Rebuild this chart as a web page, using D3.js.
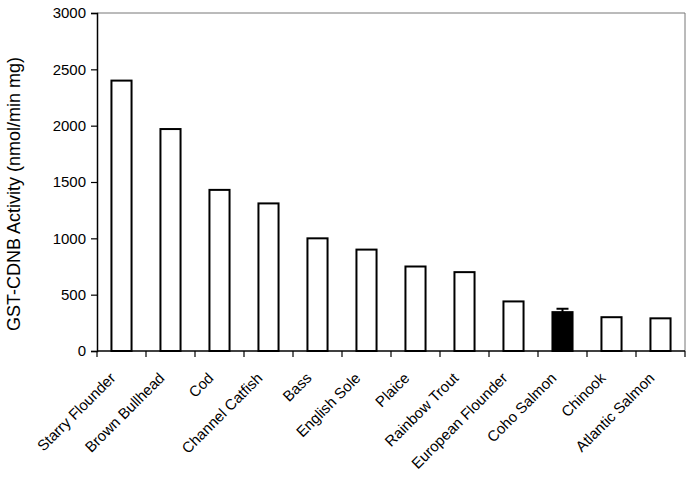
<!DOCTYPE html>
<html><head><meta charset="utf-8">
<script src="https://cdn.jsdelivr.net/npm/d3@7/dist/d3.min.js"></script>
<style>body{margin:0;background:#fff}svg{display:block}</style>
</head><body>
<script>
const categories = ["Starry Flounder","Brown Bullhead","Cod","Channel Catfish","Bass","English Sole","Plaice","Rainbow Trout","European Flounder","Coho Salmon","Chinook","Atlantic Salmon"];
const values = [2400,1970,1430,1310,1000,900,750,700,440,345,300,290];
const errors = [0,0,0,0,0,0,0,0,0,30,0,0];
const highlighted = ["Coho Salmon"];
const yTicks = [0,500,1000,1500,2000,2500,3000];
const yLabel = "GST-CDNB Activity (nmol/min mg)";

const W = 690, H = 480;
const m = {left: 97, right: 5, top: 13, bottom: 129};
const svg = d3.select("body").append("svg").attr("width", W).attr("height", H);
const font = "Arial, 'Liberation Sans', sans-serif";

const x = d3.scaleBand().domain(categories).range([m.left, W - m.right]).paddingInner(0.59).paddingOuter(0.295);
const y = d3.scaleLinear().domain([0, 3000]).range([H - m.bottom, m.top]);

// frame top & right
svg.append("line").attr("x1", m.left).attr("x2", W - m.right).attr("y1", y(3000)).attr("y2", y(3000)).attr("stroke", "#777").attr("stroke-width", 1);
svg.append("line").attr("x1", W - m.right).attr("x2", W - m.right).attr("y1", y(3000)).attr("y2", y(0)).attr("stroke", "#777").attr("stroke-width", 1);

// bars
svg.selectAll("rect.bar").data(categories).enter().append("rect")
  .attr("x", d => x(d)).attr("width", x.bandwidth())
  .attr("y", (d, i) => y(values[i])).attr("height", (d, i) => y(0) - y(values[i]))
  .attr("fill", d => highlighted.includes(d) ? "#000" : "#fff")
  .attr("stroke", "#000").attr("stroke-width", 2);

// error bars
categories.forEach((c, i) => {
  if (!errors[i]) return;
  const cx = x(c) + x.bandwidth() / 2;
  svg.append("line").attr("x1", cx).attr("x2", cx).attr("y1", y(values[i])).attr("y2", y(values[i] + errors[i])).attr("stroke", "#000").attr("stroke-width", 2);
  svg.append("line").attr("x1", cx - 6).attr("x2", cx + 6).attr("y1", y(values[i] + errors[i])).attr("y2", y(values[i] + errors[i])).attr("stroke", "#000").attr("stroke-width", 2);
});

// y axis
const ya = svg.append("g").attr("transform", `translate(${m.left},0)`)
  .call(d3.axisLeft(y).tickValues(yTicks).tickSize(6).tickPadding(5).tickFormat(d3.format("d")));
ya.select(".domain").attr("stroke", "#000").attr("stroke-width", 1.5);
ya.selectAll(".tick line").attr("stroke", "#000").attr("stroke-width", 1.2);
ya.selectAll("text").attr("font-family", font).attr("font-size", 15).attr("fill", "#000");

// x axis: ticks at band boundaries
const step = x.step();
const boundaries = d3.range(categories.length + 1).map(i => m.left + i * step);
svg.append("line").attr("x1", m.left).attr("x2", W - m.right).attr("y1", y(0)).attr("y2", y(0)).attr("stroke", "#000").attr("stroke-width", 1.5);
svg.selectAll("line.xt").data(boundaries).enter().append("line")
  .attr("x1", d => d).attr("x2", d => d).attr("y1", y(0)).attr("y2", y(0) + 6)
  .attr("stroke", "#000").attr("stroke-width", 1.2);

svg.selectAll("text.xl").data(categories).enter().append("text")
  .attr("transform", d => `translate(${x(d) + x.bandwidth() / 2 - 5},${y(0) + 28}) rotate(-45)`)
  .attr("text-anchor", "end").attr("font-family", font).attr("font-size", 15).attr("fill", "#000")
  .text(d => d);

// y label
svg.append("text").attr("transform", `translate(20,194) rotate(-90)`)
  .attr("text-anchor", "middle").attr("font-family", font).attr("font-size", 18).attr("fill", "#000")
  .text(yLabel);
</script>
</body></html>
